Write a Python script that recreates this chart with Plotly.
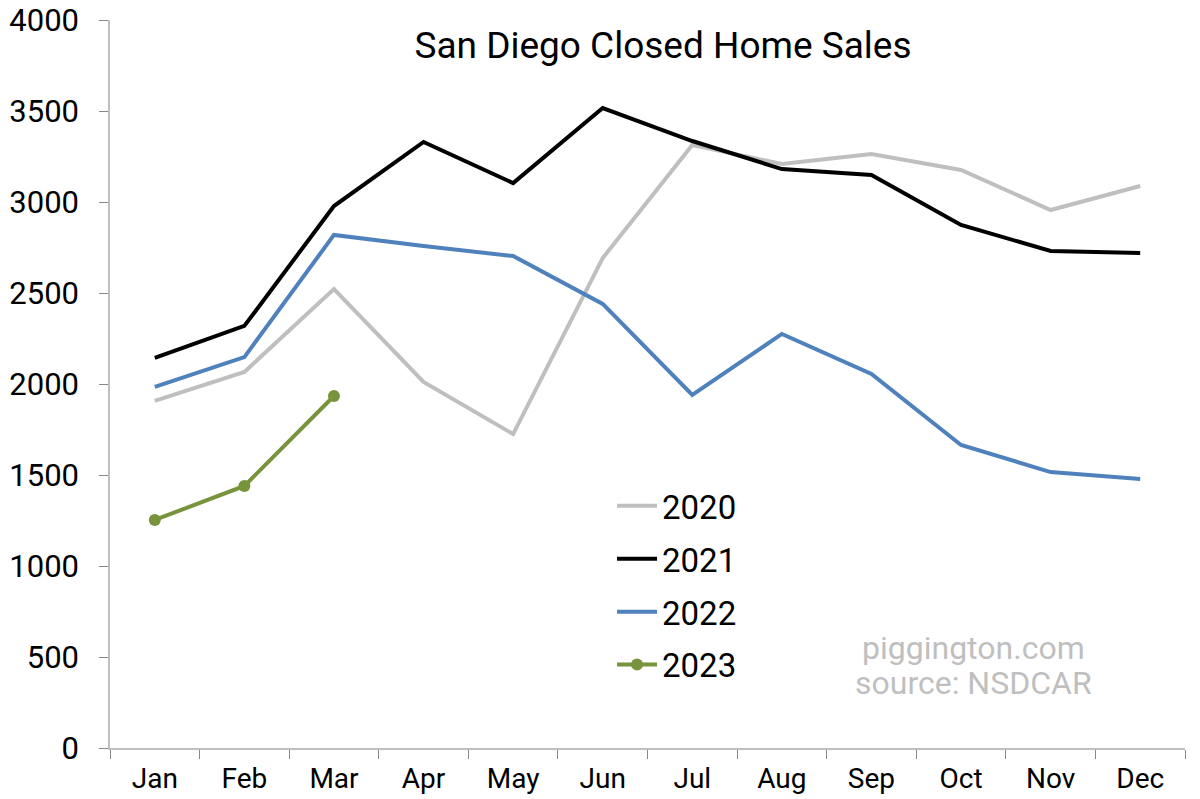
import plotly.graph_objects as go

months = ["Jan", "Feb", "Mar", "Apr", "May", "Jun", "Jul", "Aug", "Sep", "Oct", "Nov", "Dec"]
sales_2020 = [1907, 2066, 2522, 2011, 1725, 2692, 3313, 3209, 3264, 3176, 2956, 3088]
sales_2021 = [2143, 2319, 2978, 3330, 3104, 3516, 3335, 3181, 3148, 2874, 2731, 2720]
sales_2022 = [1984, 2148, 2819, 2758, 2703, 2440, 1940, 2275, 2055, 1665, 1516, 1478]
sales_2023 = [1253, 1440, 1934]
watermark = ["piggington.com", "source: NSDCAR"]

FONT = "Roboto"

fig = go.Figure()
fig.add_trace(go.Scatter(x=months, y=sales_2020, name="2020", mode="lines",
                         line=dict(color="#bfbfbf", width=4), legendgroup="a"))
fig.add_trace(go.Scatter(x=months, y=sales_2021, name="2021", mode="lines",
                         line=dict(color="#000000", width=4), legendgroup="b"))
fig.add_trace(go.Scatter(x=months, y=sales_2022, name="2022", mode="lines",
                         line=dict(color="#4f81bd", width=4), legendgroup="c"))
fig.add_trace(go.Scatter(x=months[:len(sales_2023)], y=sales_2023, name="2023", mode="lines+markers",
                         line=dict(color="#77933c", width=4), marker=dict(size=12, color="#77933c"),
                         legendgroup="d"))

fig.update_layout(
    width=1200, height=799,
    paper_bgcolor="white", plot_bgcolor="white",
    margin=dict(l=110, r=15, t=20, b=51, autoexpand=False),
    font=dict(family=FONT, size=30, color="#000000"),
    title=dict(text="San Diego Closed Home Sales", x=0.5525, xanchor="center", y=0.9437, yanchor="middle",
               font=dict(family=FONT, size=37, color="#000000")),
    showlegend=True,
    legend=dict(x=0.467, y=0.371, xanchor="left", yanchor="top", bgcolor="rgba(0,0,0,0)",
                font=dict(family=FONT, size=33, color="#000000"), tracegroupgap=7,
                itemwidth=40),
    annotations=[
        dict(text=watermark[0], x=0.803, y=0.1374, xref="paper", yref="paper",
             xanchor="center", yanchor="middle", showarrow=False,
             font=dict(family=FONT, size=32, color="#bfbfbf")),
        dict(text=watermark[1], x=0.803, y=0.0893, xref="paper", yref="paper",
             xanchor="center", yanchor="middle", showarrow=False,
             font=dict(family=FONT, size=32, color="#bfbfbf")),
    ],
)
fig.update_xaxes(range=[-0.5, 11.5], showgrid=False, showline=True, linecolor="#bfbfbf", linewidth=1.5,
                 ticks="outside", tickson="boundaries", ticklen=9, tickcolor="#888888",
                 ticklabelstandoff=5,
                 tickfont=dict(family=FONT, size=28, color="#000000"), zeroline=False)
fig.update_yaxes(range=[0, 4000], dtick=500, showgrid=False, showline=True, linecolor="#bfbfbf", linewidth=1.5,
                 ticks="outside", ticklen=9, tickcolor="#888888", zeroline=False,
                 ticklabelstandoff=14, ticklabeloverflow="allow",
                 tickfont=dict(family=FONT, size=31, color="#000000"))

fig.write_html("out.html", config={"displayModeBar": False},
               post_script="document.body.style.margin='0px';document.body.style.overflow='hidden';")
